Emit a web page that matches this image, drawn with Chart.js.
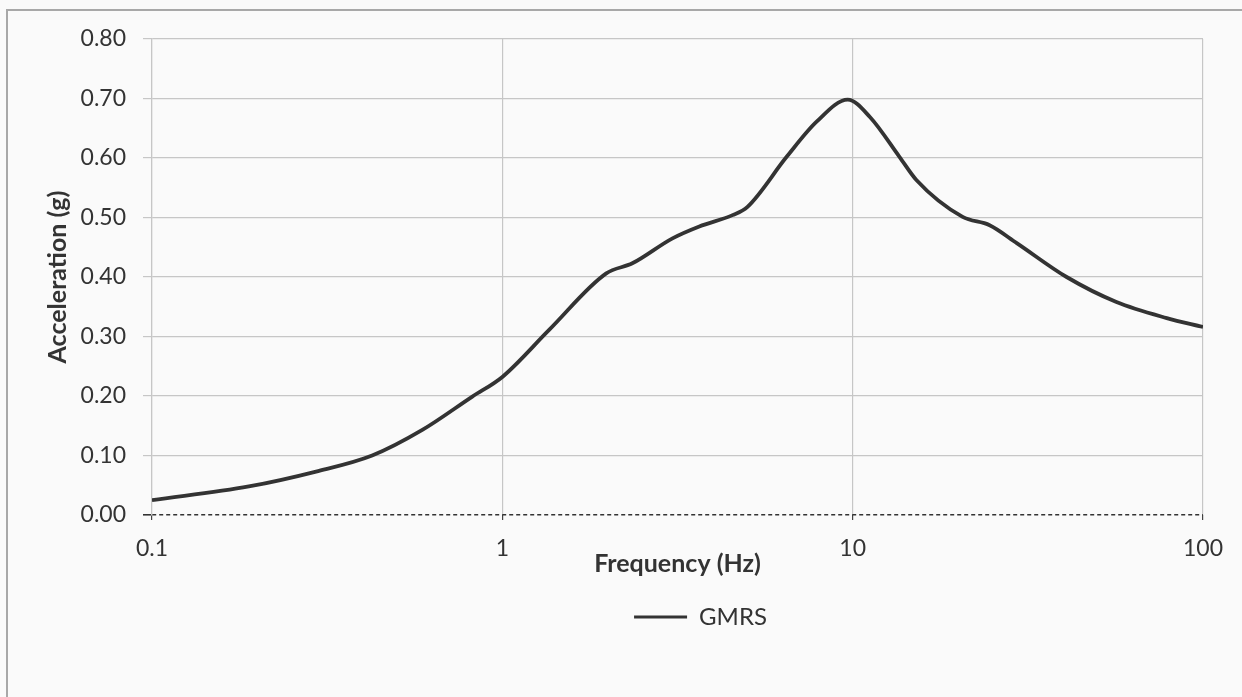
<!DOCTYPE html>
<html>
<head>
<meta charset="utf-8">
<script src="https://cdn.jsdelivr.net/npm/chart.js@4.4.1/dist/chart.umd.min.js"></script>
<style>
  html, body { margin: 0; padding: 0; background: #fafafa; }
  body { width: 1242px; height: 697px; overflow: hidden; position: relative; }
  #frame { position: absolute; left: 6px; top: 9px; width: 1300px; height: 800px;
           border: 2px solid #a8a8a8; box-sizing: border-box; }
  canvas { position: absolute; left: 0; top: 0; }
</style>
</head>
<body>
<div id="frame"></div>
<canvas id="c" width="1242" height="697"></canvas>
<script>
// ---- data ----
const frequencyHz = [0.1, 0.189, 0.294, 0.425, 0.591, 0.821, 1.0, 1.36, 1.98, 2.35, 3.06, 3.65, 4.54, 5.01, 6.48, 7.89, 9.68, 11.2, 13.6, 15.2, 20.6, 24.6, 29.4, 40.8, 56.6, 78.8, 100];
const gmrsAccel   = [0.025, 0.048, 0.073, 0.100, 0.143, 0.199, 0.232, 0.311, 0.406, 0.423, 0.465, 0.485, 0.504, 0.518, 0.602, 0.661, 0.698, 0.669, 0.602, 0.563, 0.501, 0.487, 0.457, 0.400, 0.358, 0.331, 0.316];
const xTickValues = [0.1, 1, 10, 100];
const xTickLabels = ['0.1', '1', '10', '100'];
const seriesName = 'GMRS';
const xTitle = 'Frequency (Hz)';
const yTitle = 'Acceleration (g)';

Chart.defaults.font.family = 'Lato, "Open Sans", sans-serif';
Chart.defaults.color = '#333';

const PAD_LEFT = 10, PAD_RIGHT = 39, PAD_TOP = 39, PAD_BOTTOM = 58;
const PLOT_LEFT = 152, PLOT_BOTTOM = 515;
const LEGEND_FONT = 24, LEGEND_PAD = 10;
const LEGEND_H = LEGEND_FONT + 2 * LEGEND_PAD;

const shiftLegend = {
  id: 'shiftLegend',
  afterLayout(chart) {
    const lg = chart.legend;
    if (lg) { lg.left += 94; lg.right += 94; }
  }
};

new Chart(document.getElementById('c'), {
  type: 'line',
  data: {
    datasets: [{
      label: seriesName,
      data: frequencyHz.map((f, i) => ({ x: f, y: gmrsAccel[i] })),
      borderColor: '#333333',
      backgroundColor: '#333333',
      borderWidth: 3.8,
      pointRadius: 0,
      cubicInterpolationMode: 'monotone',
      fill: false
    }]
  },
  options: {
    responsive: false,
    animation: false,
    layout: { padding: { left: PAD_LEFT, right: PAD_RIGHT, top: PAD_TOP, bottom: PAD_BOTTOM } },
    plugins: {
      tooltip: { enabled: false },
      legend: {
        position: 'bottom',
        labels: {
          boxWidth: 53, boxHeight: 3, padding: LEGEND_PAD,
          font: { size: LEGEND_FONT }, color: '#333',
          generateLabels(chart) {
            const items = Chart.defaults.plugins.legend.labels.generateLabels(chart);
            items.forEach(it => { it.lineWidth = 0; it.fillStyle = '#333333'; });
            return items;
          }
        }
      }
    },
    scales: {
      x: {
        type: 'logarithmic',
        min: 0.1, max: 100,
        afterBuildTicks(scale) { scale.ticks = xTickValues.map(v => ({ value: v })); },
        afterFit(scale) { scale.height = 697 - PAD_BOTTOM - LEGEND_H - PLOT_BOTTOM; },
        ticks: {
          autoSkip: false, maxRotation: 0, padding: 15,
          font: { size: 23 }, color: '#333',
          callback(value) { const i = xTickValues.indexOf(value); return i >= 0 ? xTickLabels[i] : ''; }
        },
        grid: { color: '#c6c6c6', lineWidth: 1.2, tickLength: 5, tickColor: '#444' },
        border: { display: false },
        title: { display: true, text: xTitle, font: { size: 25, weight: 'bold' }, color: '#333',
                 padding: { top: 16, bottom: 16 } }
      },
      y: {
        type: 'linear',
        min: 0, max: 0.8,
        afterBuildTicks(scale) {
          const t = []; for (let i = 0; i <= 8; i++) t.push({ value: +(i * 0.1).toFixed(1) });
          scale.ticks = t;
        },
        afterFit(scale) { scale.width = PLOT_LEFT - PAD_LEFT; },
        ticks: {
          padding: 17, font: { size: 23 }, color: '#333',
          callback(value) { return Number(value).toFixed(2); }
        },
        grid: {
          color(ctx) { return ctx.tick && ctx.tick.value === 0 ? '#333333' : '#c6c6c6'; },
          lineWidth(ctx) { return ctx.tick && ctx.tick.value === 0 ? 1.6 : 1.2; },
          tickLength: 9
        },
        border: {
          display: true, color: '#c6c6c6', width: 1.2,
          dash(ctx) { return ctx.tick && ctx.tick.value === 0 ? [4, 3] : []; }
        },
        title: { display: true, text: yTitle, font: { size: 25, weight: 'bold' }, color: '#333',
                 padding: { top: 33, bottom: 33 } }
      }
    }
  },
  plugins: [shiftLegend]
});
</script>
</body>
</html>
